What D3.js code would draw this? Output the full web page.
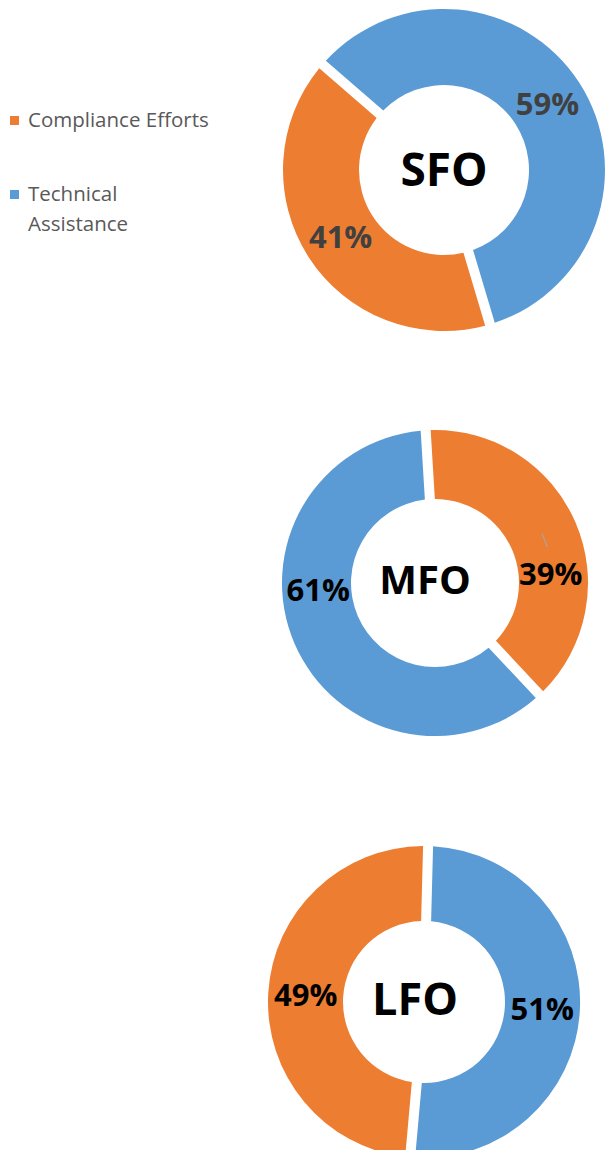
<!DOCTYPE html>
<html>
<head>
<meta charset="utf-8">
<script src="https://cdn.jsdelivr.net/npm/d3@7"></script>
<style>
  body { margin: 0; background: #fff; }
  text { font-family: "Open Sans", "Noto Sans", sans-serif; }
</style>
</head>
<body>
<div id="chart"></div>
<script>
// data
const categories = ["Compliance Efforts", "Technical Assistance"];
const offices = ["SFO", "MFO", "LFO"];
const compliance = [41, 39, 49];
const technical = [59, 61, 51];

// layout of each donut (centre, radii, where the first slice starts)
const layout = [
  {cx: 444, cy: 170, outer: 161, inner: 85, start: -49, first: "Technical Assistance", labelColor: "#404040", titleSize: 46, labelShift: null},
  {cx: 435, cy: 583, outer: 153, inner: 84, start: -3.5, first: "Compliance Efforts", labelColor: "#000", titleSize: 40, labelShift: {"Compliance Efforts": [85.6, 116], "Technical Assistance": [266.6, 117]}},
  {cx: 424, cy: 1002, outer: 156, inner: 81, start: 1.5, first: "Technical Assistance", labelColor: "#000", titleSize: 45, labelShift: null}
];

const width = 605, height = 1150;

const color = d3.scaleOrdinal()
  .domain(categories)
  .range(["#ED7D31", "#5B9BD5"]);

const svg = d3.select("#chart")
  .append("svg")
    .attr("width", width)
    .attr("height", height);

offices.forEach((name, i) => {
  const L = layout[i];
  var slices = [
    {cat: categories[0], value: compliance[i]},
    {cat: categories[1], value: technical[i]}
  ];
  if (slices[0].cat != L.first) slices.reverse();

  const start = L.start * Math.PI / 180;
  const pie = d3.pie()
    .value(d => d.value)
    .sort(null)
    .startAngle(start)
    .endAngle(start + 2 * Math.PI);

  const arc = d3.arc()
    .innerRadius(L.inner)
    .outerRadius(L.outer)
    .padRadius(100)
    .padAngle(0.1);

  const g = svg.append("g")
    .attr("transform", `translate(${L.cx}, ${L.cy})`);

  const ready = pie(slices);

  g.selectAll("path")
    .data(ready)
    .join("path")
      .attr("d", arc)
      .attr("fill", d => color(d.data.cat));

  // where the % label sits
  const midR = (L.inner + L.outer) / 2;
  function labelPos(d) {
    if (L.labelShift && L.labelShift[d.data.cat]) {
      const a = L.labelShift[d.data.cat][0] * Math.PI / 180, r = L.labelShift[d.data.cat][1];
      return [r * Math.sin(a), -r * Math.cos(a)];
    }
    const a = (d.startAngle + d.endAngle) / 2;
    return [midR * Math.sin(a), -midR * Math.cos(a)];
  }

  // leader line for the label that was dragged away from the ring centre (MFO)
  if (L.labelShift) {
    ready.filter(d => d.data.cat == "Compliance Efforts").forEach(d => {
      const a = (d.startAngle + d.endAngle) / 2;
      const p0 = [midR * Math.sin(a), -midR * Math.cos(a)];
      const p1 = labelPos(d);
      const dx = p1[0] - p0[0], dy = p1[1] - p0[1], len = Math.sqrt(dx * dx + dy * dy);
      g.append("line")
        .attr("x1", p0[0] - 2).attr("y1", p0[1] - 3)
        .attr("x2", p0[0] - 2 + dx / len * 14 + 3).attr("y2", p0[1] - 3 + dy / len * 14)
        .attr("stroke", "#a6a6a6")
        .attr("stroke-width", 1.2);
    });
  }

  g.selectAll("text.pct")
    .data(ready)
    .join("text")
      .attr("class", "pct")
      .attr("transform", d => `translate(${labelPos(d)})`)
      .attr("text-anchor", "middle")
      .attr("dy", "0.36em")
      .style("font-size", "31px")
      .style("font-weight", "bold")
      .attr("fill", L.labelColor)
      .text(d => d.data.value + "%");

  g.append("text")
    .attr("x", name == "SFO" ? 0 : (name == "MFO" ? -10 : -9))
    .attr("y", name == "LFO" ? -3 : (name == "MFO" ? -3 : -1))
    .attr("text-anchor", "middle")
    .attr("dy", "0.36em")
    .style("font-size", L.titleSize + "px")
    .style("font-weight", "bold")
    .attr("fill", "#000")
    .text(name);
});

// legend
const legend = svg.append("g").attr("transform", "translate(10, 0)");
const legendRows = [
  {cat: categories[0], lines: ["Compliance Efforts"], y: 127},
  {cat: categories[1], lines: ["Technical", "Assistance"], y: 201}
];
legendRows.forEach(r => {
  legend.append("rect")
    .attr("x", 0)
    .attr("y", r.y - 11)
    .attr("width", 9)
    .attr("height", 9)
    .attr("fill", color(r.cat));
  r.lines.forEach((t, k) => {
    legend.append("text")
      .attr("x", 18)
      .attr("y", r.y + k * 30)
      .style("font-size", "20.5px")
      .attr("fill", "#595959")
      .text(t);
  });
});
</script>
</body>
</html>
